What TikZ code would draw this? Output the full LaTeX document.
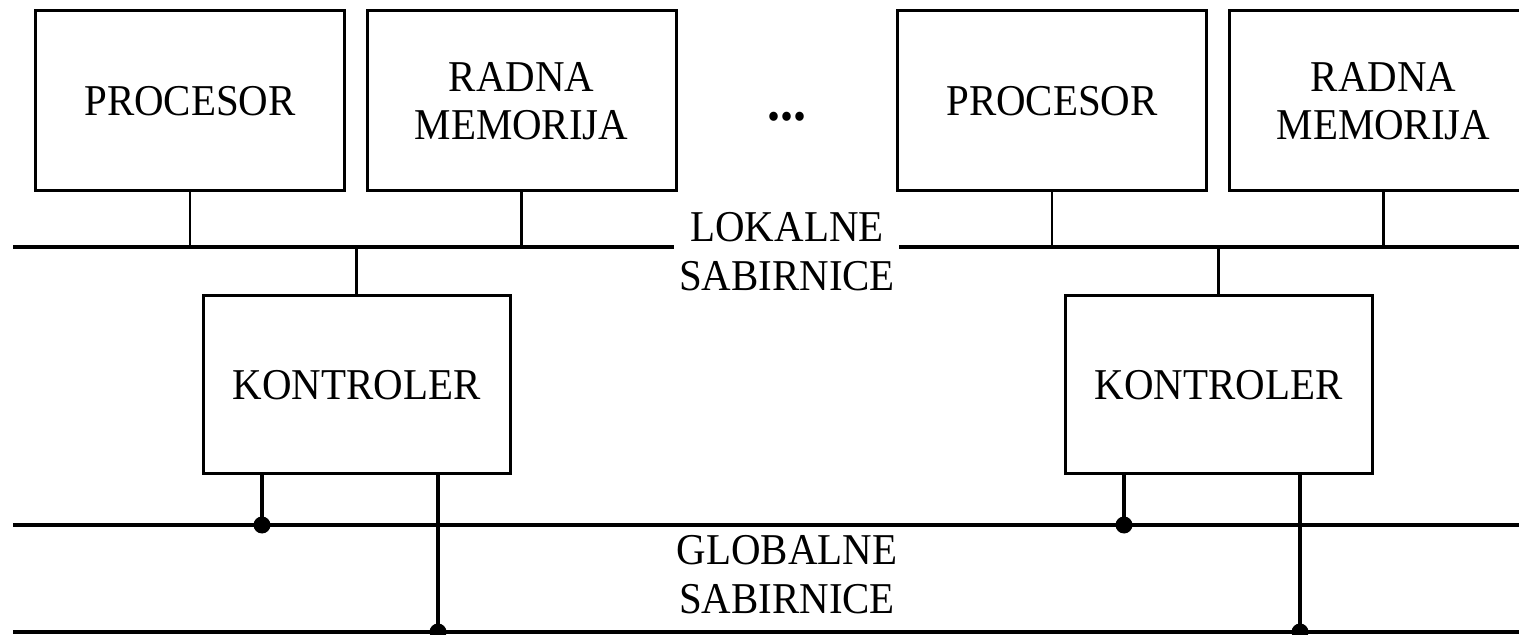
\documentclass[tikz,border=0pt]{standalone}
\usepackage{fontspec}
\setmainfont{Liberation Serif}[FakeStretch=0.93]
\usepackage{tikz}

\begin{document}
\begin{tikzpicture}[x=0.5pt,y=-0.5pt,
  blok/.style={draw,line width=1.5pt,minimum width=154.5pt,minimum height=90pt,
    inner sep=0pt,align=center,font=\fontsize{22}{24}\selectfont},
  natpis/.style={align=center,inner sep=0pt,font=\fontsize{22}{24.5}\selectfont},
  sabirnica/.style={line width=1.6pt},
  veza/.style={line width=1.2pt},
  gveza/.style={line width=2.2pt},
  spoj/.style={circle,fill,inner sep=0pt,minimum size=8.5pt}]
\useasboundingbox (0,0) rectangle (1519,635);
% sabirnice
\coordinate (lok1a) at (13,247);
\coordinate (lok1b) at (674,247);
\coordinate (lok2a) at (899,247);
\coordinate (lok2b) at (1530,247);
\coordinate (glob1a) at (13,525);
\coordinate (glob1b) at (1530,525);
\coordinate (glob2a) at (13,632);
\coordinate (glob2b) at (1530,632);
\draw[sabirnica] (lok1a) -- (lok1b);
\draw[sabirnica] (lok2a) -- (lok2b);
\draw[sabirnica] (glob1a) -- (glob1b);
\draw[sabirnica] (glob2a) -- (glob2b);
\node[natpis] (lokalne) at (787,251.5) {LOKALNE\\SABIRNICE};
\node[natpis] (globalne) at (787,574.5) {GLOBALNE\\SABIRNICE};
\node[natpis,anchor=base,font=\fontsize{28}{28}\selectfont\bfseries] (tocke) at (787,121) {...};
% dva cvora
\foreach \g/\dx in {1/0,2/862} {
\node[blok] (p\g) at (190+\dx,101) {PROCESOR};
\node[blok] (r\g) at (521.5+\dx,101) {RADNA\\MEMORIJA};
\node[blok,minimum width=153.5pt,minimum height=89pt] (k\g) at (356.5+\dx,385) {KONTROLER};
\draw[veza] (p\g.south) -- (p\g.south |- lok1a);
\draw[veza] (r\g.south) -- (r\g.south |- lok1a);
\draw[veza] (k\g.north) -- (k\g.north |- lok1a);
\path ([xshift=-47.25pt]k\g.south) coordinate (kl\g)
      ([xshift=40.75pt]k\g.south) coordinate (kd\g);
\draw[gveza] (kl\g) -- (kl\g |- glob1a) node[spoj] {};
\draw[gveza] (kd\g) -- (kd\g |- glob2a) node[spoj] {};
}
\end{tikzpicture}
\end{document}
